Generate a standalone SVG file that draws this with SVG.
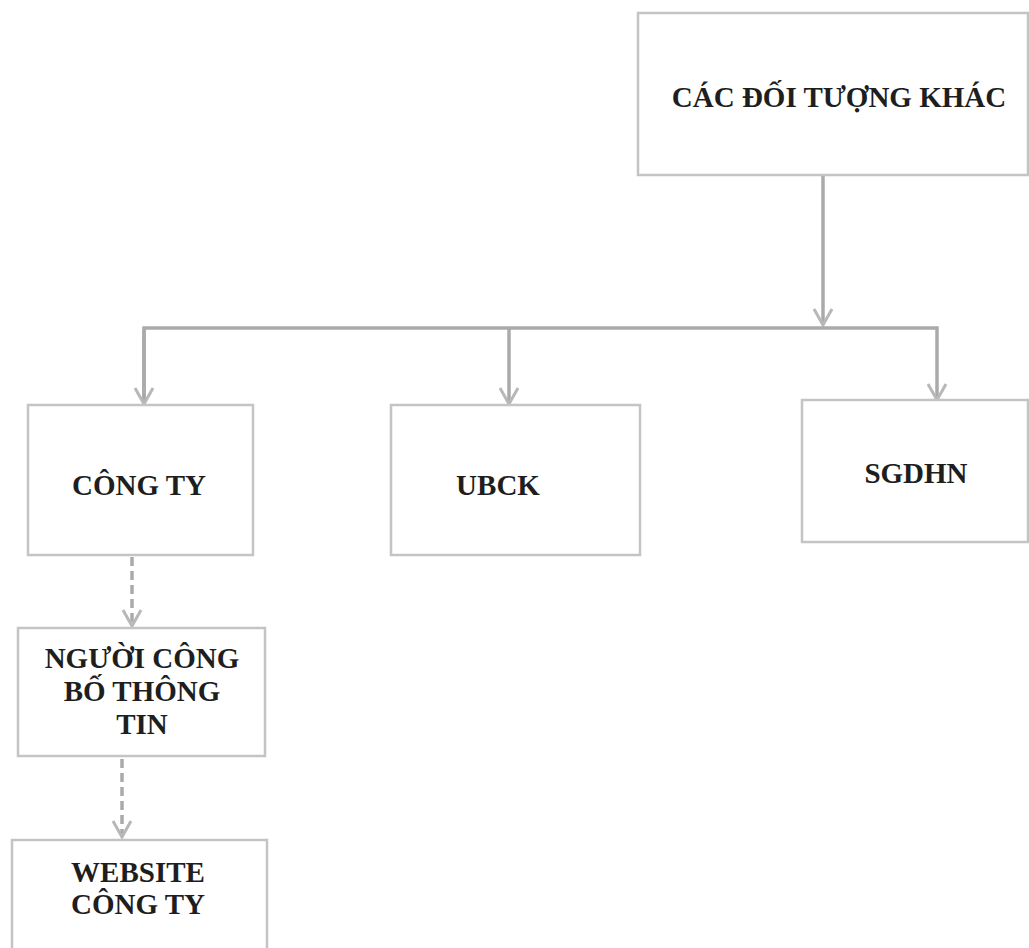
<svg xmlns="http://www.w3.org/2000/svg" width="1029" height="948" viewBox="0 0 1029 948">
<style>
.box{fill:#ffffff;stroke:#c4c4c4;stroke-width:2.5}
.lbl{font-family:"Liberation Serif","Times New Roman",serif;font-weight:bold;font-size:29px;fill:#1e1e1e;text-anchor:middle}
.con{fill:none;stroke:#aaaaaa;stroke-width:3.5}
.dash{stroke-dasharray:9 5}
</style>
<defs>
<marker id="arr" viewBox="0 0 20 22" refX="18" refY="11" markerWidth="20" markerHeight="22" markerUnits="userSpaceOnUse" orient="auto">
<path d="M2,2 L18,11 L2,20" fill="none" stroke="#b8b8b8" stroke-width="3"/>
</marker>
</defs>
<rect width="1029" height="948" fill="#ffffff"/>
<g id="connectors">
<path class="con" d="M823,176 L823,325" marker-end="url(#arr)"/>
<path class="con" d="M144,404 L144,328 L937,328 L937,400" marker-end="url(#arr)"/>
<path class="con" d="M144,330 L144,404" marker-end="url(#arr)"/>
<path class="con" d="M509,328 L509,404" marker-end="url(#arr)"/>
<path class="con dash" d="M132,557 L132,626" marker-end="url(#arr)"/>
<path class="con dash" d="M122,759 L122,837" marker-end="url(#arr)"/>
</g>
<g id="node-cac-doi-tuong-khac">
<rect class="box" x="638" y="13" width="390" height="162"/>
<text class="lbl" x="839" y="107">CÁC ĐỐI TƯỢNG KHÁC</text>
</g>
<g id="node-cong-ty">
<rect class="box" x="28" y="405" width="225" height="150"/>
<text class="lbl" x="139" y="495">CÔNG TY</text>
</g>
<g id="node-ubck">
<rect class="box" x="391" y="405" width="249" height="150"/>
<text class="lbl" x="498" y="495">UBCK</text>
</g>
<g id="node-sgdhn">
<rect class="box" x="802" y="400" width="226" height="142"/>
<text class="lbl" x="916" y="483">SGDHN</text>
</g>
<g id="node-nguoi-cong-bo">
<rect class="box" x="18" y="628" width="247" height="128"/>
<text class="lbl" x="142" y="668">NGƯỜI CÔNG</text>
<text class="lbl" x="142" y="701">BỐ THÔNG</text>
<text class="lbl" x="142" y="734">TIN</text>
</g>
<g id="node-website">
<rect class="box" x="12" y="840" width="255" height="120"/>
<text class="lbl" x="138" y="882">WEBSITE</text>
<text class="lbl" x="138" y="914">CÔNG TY</text>
</g>
</svg>
